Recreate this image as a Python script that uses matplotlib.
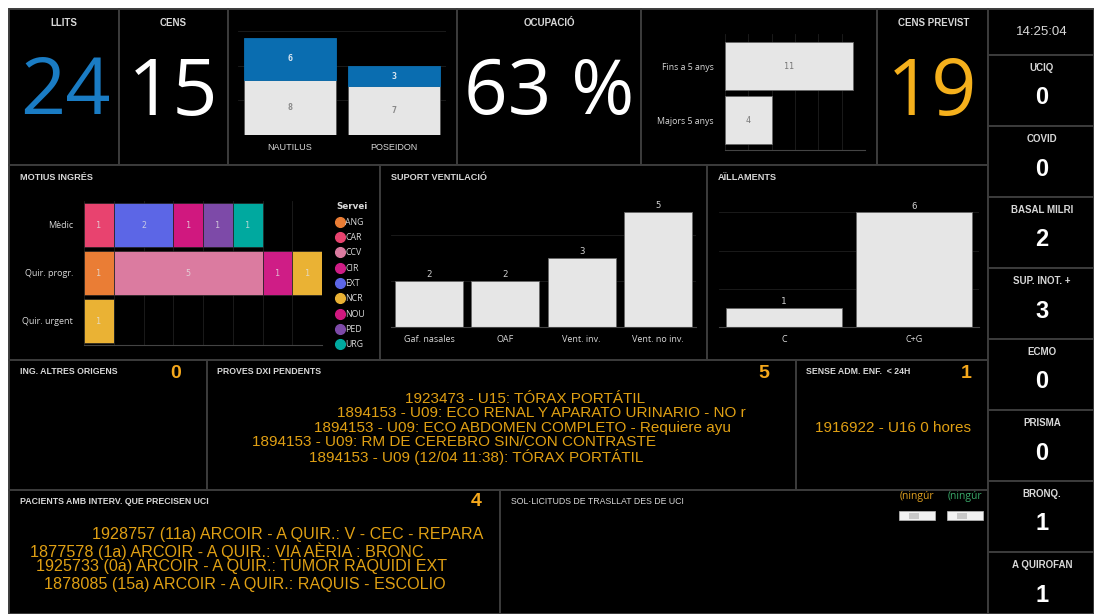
import matplotlib
matplotlib.use("Agg")
import matplotlib.pyplot as plt
from matplotlib.patches import Rectangle

# ---- data ----
llits = 24
cens = 15
ocupacio = 63
cens_previst = 19

unitats = ['NAUTILUS', 'POSEIDON']
unitats_ocupats = [8, 7]
unitats_lliures = [6, 3]

edats = ['Fins a 5 anys', 'Majors 5 anys']
edats_valors = [11, 4]

motius = ['Mèdic', 'Quir. progr.', 'Quir. urgent']
serveis = ['ANG', 'CAR', 'CCV', 'CIR', 'EXT', 'NCR', 'NOU', 'PED', 'URG']
serveis_colors = ['#ea7d35', '#e8436f', '#db7ba0', '#cf1d86', '#5c66e6',
                  '#eab234', '#d0187f', '#7d4aa8', '#00a99f']
# one row per servei, one column per motiu
serveis_valors = [
    [0, 1, 0],
    [1, 0, 0],
    [0, 5, 0],
    [0, 1, 0],
    [2, 0, 0],
    [0, 1, 1],
    [1, 0, 0],
    [1, 0, 0],
    [1, 0, 0],
]

ventilacio = ['Gaf. nasales', 'OAF', 'Vent. inv.', 'Vent. no inv.']
ventilacio_valors = [2, 2, 3, 5]

aillaments = ['C', 'C+G']
aillaments_valors = [1, 6]

indicadors = ['UCIQ', 'COVID', 'BASAL MILRI', 'SUP. INOT. +', 'ECMO',
              'PRISMA', 'BRONQ.', 'A QUIROFAN']
indicadors_valors = [0, 0, 2, 3, 0, 0, 1, 1]
hora = '14:25:04'

altres_origens = 0
proves_dxi = 5
proves_linies = [
    '1923473 - U15: TÓRAX PORTÁTIL',
    '1894153 - U09: ECO RENAL Y APARATO URINARIO - NO r',
    '1894153 - U09: ECO ABDOMEN COMPLETO - Requiere ayu',
    '1894153 - U09: RM DE CEREBRO SIN/CON CONTRASTE',
    '1894153 - U09 (12/04 11:38): TÓRAX PORTÁTIL',
]
sense_adm = 1
sense_adm_linies = ['1916922 - U16 0 hores']
pacients_uci = 4
pacients_linies = [
    '1928757 (11a) ARCOIR - A QUIR.: V - CEC - REPARA',
    '1877578 (1a) ARCOIR - A QUIR.: VIA AÈRIA : BRONC',
    '1925733 (0a) ARCOIR - A QUIR.: TUMOR RAQUIDI EXT',
    '1878085 (15a) ARCOIR - A QUIR.: RAQUIS - ESCOLIO',
]

# ---- style ----
W, H = 1094, 614
BORDER = '#3c3c3c'
LABEL = '#d8d8d8'
BAR = '#e6e6e6'
GRID = '#1e1e1e'
ORANGE = '#e0a014'
SANS = ['Liberation Sans', 'DejaVu Sans']
HEAD = dict(family=SANS, color=LABEL, fontsize=7, fontweight='bold')
PHEAD = dict(HEAD, fontsize=6.6)
CHART_FONT = ['Open Sans', 'DejaVu Sans']
VAL_FONT = ['DejaVu Sans Mono']

fig = plt.figure(figsize=(W / 100, H / 100), dpi=100, facecolor='white')
base = fig.add_axes([0, 0, 1, 1])
base.set_xlim(0, W)
base.set_ylim(H, 0)
base.axis('off')
base.add_patch(Rectangle((9, 9), W - 9, H - 9, facecolor='black', edgecolor='none'))


def panel(x0, y0, x1, y1):
    base.add_patch(Rectangle((x0, y0), x1 - x0, y1 - y0, facecolor='black',
                             edgecolor=BORDER, linewidth=1.4))


def px_axes(x0, y0, x1, y1):
    ax = fig.add_axes([x0 / W, 1 - y1 / H, (x1 - x0) / W, (y1 - y0) / H])
    ax.set_facecolor('none')
    for s in ax.spines.values():
        s.set_visible(False)
    ax.tick_params(length=0, colors=LABEL)
    return ax


# panels
for box in [(9, 9, 119, 165), (119, 9, 228, 165), (228, 9, 457, 165),
            (457, 9, 641, 165), (641, 9, 877, 165), (877, 9, 988, 165),
            (9, 165, 380, 360), (380, 165, 707, 360), (707, 165, 988, 360),
            (9, 360, 207, 490), (207, 360, 796, 490), (796, 360, 988, 490),
            (9, 490, 500, 614), (500, 490, 988, 614)]:
    panel(*box)

# right column
panel(988, 9, 1094, 55)
base.text(1042, 32, hora, ha='center', va='center', color=LABEL, fontsize=9.5,
          family=SANS)
for i, (nom, val) in enumerate(zip(indicadors, indicadors_valors)):
    y0 = 55 + i * 71
    panel(988, y0, 1094, min(y0 + 71, 614))
    base.text(1042, y0 + 13, nom, ha='center', va='center', **HEAD)
    base.text(1042, y0 + 43, str(val), ha='center', va='center', color='white',
              fontsize=17, fontweight='bold', family=SANS)

# big numbers
base.text(64, 23, 'LLITS', ha='center', va='center', **HEAD)
base.text(173, 23, 'CENS', ha='center', va='center', **HEAD)
base.text(549, 23, 'OCUPACIÓ', ha='center', va='center', **HEAD)
base.text(934, 23, 'CENS PREVIST', ha='center', va='center', **HEAD)
big = dict(ha='center', va='center', family=['Open Sans', 'DejaVu Sans'])
base.text(65, 94, str(llits), color='#1a7cc4', fontsize=57, **big)
base.text(173, 94, str(cens), color='white', fontsize=57, **big)
base.text(549, 94, f'{ocupacio} %', color='white', fontsize=55, **big)
base.text(932, 94, str(cens_previst), color='#f5b01c', fontsize=57, **big)

# NAUTILUS / POSEIDON stacked bars
ax = px_axes(238, 31, 446, 135)
xs = range(len(unitats))
ax.bar(xs, unitats_ocupats, width=0.89, color=BAR, edgecolor='#555', linewidth=0.6, zorder=2)
ax.bar(xs, unitats_lliures, bottom=unitats_ocupats, width=0.89, color='#0a6db0',
       edgecolor='#0a6db0', linewidth=0.6, zorder=2)
for x, a, b in zip(xs, unitats_ocupats, unitats_lliures):
    ax.text(x, a / 2, str(a), ha='center', va='center', color='#888', fontsize=6,
            family=VAL_FONT, fontweight='bold')
    ax.text(x, a + b / 2, str(b), ha='center', va='center', color='#dde8f2', fontsize=6,
            family=VAL_FONT, fontweight='bold')
ax.set_xlim(-0.5, 1.5)
ax.set_ylim(0, 15)
ax.set_yticks([0, 5, 10, 15])
ax.set_yticklabels([])
ax.grid(axis='y', color=GRID, linewidth=0.6, zorder=0)
ax.set_xticks(list(xs))
ax.set_xticklabels(unitats, fontsize=6.5, family=SANS)
ax.tick_params(axis='x', pad=6)

# edats horizontal bars
ax = px_axes(725, 34, 865, 150)
ys = range(len(edats))
ax.barh(ys, edats_valors, height=0.885, color=BAR, edgecolor='#666', linewidth=0.6, zorder=2)
for y, v in zip(ys, edats_valors):
    ax.text(v / 2, y, str(v), ha='center', va='center', color='#777', fontsize=6,
            family=VAL_FONT)
ax.set_ylim(1.55, -0.6)
ax.set_xlim(0, 12)
ax.set_xticks([0, 2, 4, 6, 8, 10, 12])
ax.set_xticklabels([])
ax.grid(axis='x', color=GRID, linewidth=0.6, zorder=0)
ax.spines['bottom'].set_visible(True)
ax.spines['bottom'].set_color('#444')
ax.set_yticks(list(ys))
ax.set_yticklabels(edats, fontsize=6.3, family=CHART_FONT)
ax.tick_params(axis='y', pad=8)

# MOTIUS INGRÉS
base.text(20, 177, 'MOTIUS INGRÉS', ha='left', va='center', **PHEAD)
ax = px_axes(84, 201, 322, 345)
ys = range(len(motius))
left = [0] * len(motius)
for nom, col, vals in zip(serveis, serveis_colors, serveis_valors):
    ax.barh(ys, vals, left=left, height=0.9, color=col, edgecolor='#222', linewidth=0.5,
            zorder=2, label=nom)
    for y, v, l in zip(ys, vals, left):
        if v:
            ax.text(l + v / 2, y, str(v), ha='center', va='center', color='#e4e4e4',
                    alpha=0.8, fontsize=6, family=VAL_FONT)
    left = [a + b for a, b in zip(left, vals)]
ax.set_xlim(0, 8)
ax.set_ylim(2.5, -0.5)
ax.set_xticks(range(9))
ax.set_xticklabels([])
ax.grid(axis='x', color=GRID, linewidth=0.6, zorder=0)
ax.spines['bottom'].set_visible(True)
ax.spines['bottom'].set_color('#444')
ax.set_yticks(list(ys))
ax.set_yticklabels(motius, fontsize=6.5, family=CHART_FONT)
ax.tick_params(axis='y', pad=8)
handles = [plt.Line2D([], [], marker='o', linestyle='', markersize=7, color=c)
           for c in serveis_colors]
leg = ax.legend(handles, serveis, title='Servei', loc='upper left',
                bbox_to_anchor=(1.04, 1.02), frameon=False,
                title_fontsize=6.3, handletextpad=0.05, labelspacing=0.72,
                borderpad=0, handlelength=1.0, alignment='left',
                prop={'family': CHART_FONT, 'size': 6.3})
leg.get_title().set_color(LABEL)
leg.get_title().set_fontweight('bold')
for t in leg.get_texts():
    t.set_color(LABEL)


def vbars(box, cats, vals, ymax, ticks):
    ax = px_axes(*box)
    xs = range(len(cats))
    ax.bar(xs, vals, width=0.895, color=BAR, edgecolor='#666', linewidth=0.6, zorder=2)
    for x, v in zip(xs, vals):
        ax.text(x, v + ymax * 0.012, str(v), ha='center', va='bottom', color='#cfcfcf',
                fontsize=6.5, family=VAL_FONT)
    ax.set_xlim(-0.5, len(cats) - 0.5)
    ax.set_ylim(0, ymax)
    ax.set_yticks(ticks)
    ax.set_yticklabels([])
    ax.grid(axis='y', color=GRID, linewidth=0.6, zorder=0)
    ax.spines['bottom'].set_visible(True)
    ax.spines['bottom'].set_color('#444')
    ax.set_xticks(list(xs))
    ax.set_xticklabels(cats, fontsize=6.5, family=CHART_FONT)
    ax.tick_params(axis='x', pad=6)
    return ax


base.text(391, 177, 'SUPORT VENTILACIÓ', ha='left', va='center', **PHEAD)
vbars((391, 197, 696, 327), ventilacio, ventilacio_valors, 5.65, [0, 2, 4])
base.text(718, 177, 'AÏLLAMENTS', ha='left', va='center', **PHEAD)
vbars((719, 197, 979, 327), aillaments, aillaments_valors, 6.8, [0, 2, 4, 6])

# text panels
small = dict(family=SANS, color=LABEL, fontsize=6.3, fontweight='bold',
             ha='left', va='center')
count = dict(color='#f5a81c', fontsize=14, fontweight='bold', ha='center', va='center',
             family=SANS)
line = dict(color=ORANGE, fontsize=11, ha='left', va='center', family=SANS)

base.text(20, 372, 'ING. ALTRES ORIGENS', **small)
base.text(176, 374, str(altres_origens), **count)

base.text(217, 372, 'PROVES DXI PENDENTS', **small)
base.text(764, 374, str(proves_dxi), **count)
for (x, y), txt in zip([(405, 399), (337, 413), (314, 428), (252, 442), (309, 457)],
                       proves_linies):
    base.text(x, y, txt, **line)

base.text(806, 372, 'SENSE ADM. ENF.  < 24H', **small)
base.text(966, 374, str(sense_adm), **count)
base.text(893, 428, sense_adm_linies[0], **dict(line, ha='center'))

base.text(20, 502, 'PACIENTS AMB INTERV. QUE PRECISEN UCI', **small)
base.text(476, 502, str(pacients_uci), **count)
for (x, y), txt in zip([(92, 535), (30, 551), (36, 567), (44, 584)], pacients_linies):
    base.text(x, y, txt, **dict(line, fontsize=11.6))

base.text(511, 502, 'SOL·LICITUDS DE TRASLLAT DES DE UCI', **dict(small, fontsize=6.3,
                                                                     fontweight='normal'))
base.text(900, 497, '(ningúr', color='#e0a020', fontsize=7.5, ha='left', va='center',
          family=CHART_FONT)
base.text(948, 497, '(ningúr', color='#3aaa6a', fontsize=7.5, ha='left', va='center',
          family=CHART_FONT)
for x0 in (899, 947):
    base.add_patch(Rectangle((x0, 511), 36, 9, facecolor='#f2f2f2', edgecolor='#bbb',
                             linewidth=0.5))
    base.add_patch(Rectangle((x0 + 10, 512.5), 10, 6, facecolor='#c8c8c8',
                             edgecolor='none'))

fig.savefig('out.png', dpi=100, facecolor=fig.get_facecolor())
